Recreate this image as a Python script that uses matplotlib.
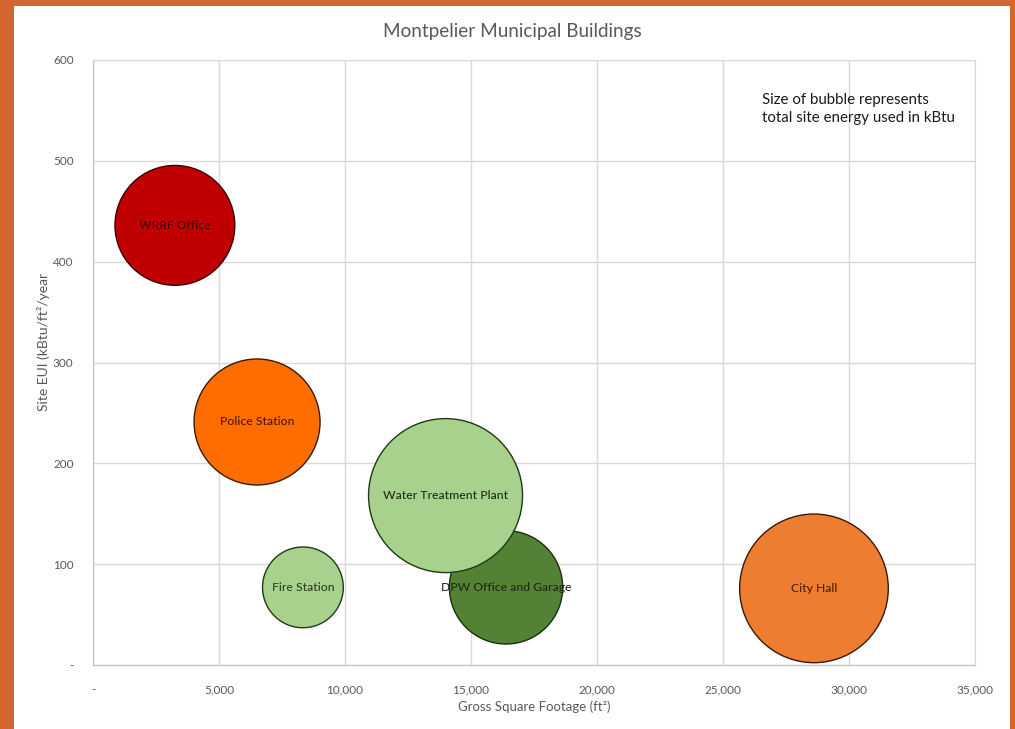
import matplotlib
matplotlib.use("Agg")
import matplotlib.pyplot as plt
import numpy as np

plt.rcParams['font.family'] = ['Lato', 'DejaVu Sans']

# ---- data ----
buildings = ["WRRF Office", "Police Station", "Fire Station",
             "DPW Office and Garage", "Water Treatment Plant", "City Hall"]
square_feet = [3250, 6510, 8330, 16390, 13990, 28610]
site_eui = [436, 241, 77, 77, 168, 76]
site_energy_kbtu = [1420000, 1570000, 645000, 1270000, 2345000, 2185000]
fill_colors = ["#C00000", "#FF6D00", "#A9D18E", "#548235", "#A9D18E", "#ED7D31"]
edge_colors = ["#3a0000", "#3a1a00", "#1f3a14", "#1a2e10", "#1f3a14", "#3a1a05"]
label_colors = ["#3a0a0a", "#4a1800", "#2a4020", "#1e2a14", "#1e2e14", "#4a2008"]

x_ticks = [0, 5000, 10000, 15000, 20000, 25000, 30000, 35000]
x_tick_labels = ["-", "5,000", "10,000", "15,000", "20,000", "25,000", "30,000", "35,000"]
y_ticks = [0, 100, 200, 300, 400, 500, 600]
y_tick_labels = ["-", "100", "200", "300", "400", "500", "600"]

W, H = 1015, 729
fig = plt.figure(figsize=(W / 100, H / 100), dpi=100)
fig.patch.set_facecolor("#D4652C")

bg = fig.add_axes([14 / W, 0, (1010 - 14) / W, (729 - 6) / H], zorder=-10)
bg.set_facecolor("white")
bg.set_xticks([])
bg.set_yticks([])
for sp in bg.spines.values():
    sp.set_visible(False)

ax = fig.add_axes([93 / W, 1 - 665 / H, (975 - 93) / W, (665 - 60) / H], zorder=1)
ax.set_facecolor("white")
ax.set_xlim(0, 35000)
ax.set_ylim(0, 600)

# bubble sizes: largest bubble ~ 25% of the plot height in diameter
energy = np.array(site_energy_kbtu, dtype=float)
max_diam_px = 154
diam_pt = max_diam_px * 0.72 * np.sqrt(energy / energy.max())
sizes = diam_pt ** 2

ax.scatter(square_feet, site_eui, s=sizes, c=fill_colors, edgecolors=edge_colors,
           linewidths=1.0, zorder=3)
for name, x, y, lc in zip(buildings, square_feet, site_eui, label_colors):
    ax.text(x, y, name, ha="center", va="center", fontsize=8.7, color=lc,
            fontweight="medium", zorder=4)

ax.set_xticks(x_ticks)
ax.set_xticklabels(x_tick_labels)
ax.set_yticks(y_ticks)
ax.set_yticklabels(y_tick_labels)
ax.tick_params(length=0, labelsize=8.5, labelcolor="#595959")
ax.tick_params(axis="y", pad=14)
ax.tick_params(axis="x", pad=14)
ax.grid(True, color="#D9D9D9", linewidth=1.0, zorder=0)
ax.set_axisbelow(True)
for sp in ax.spines.values():
    sp.set_color("#D9D9D9")
ax.spines["left"].set_color("#BFBFBF")
ax.spines["bottom"].set_color("#BFBFBF")

ax.set_xlabel("Gross Square Footage (ft²)", fontsize=9.5, color="#595959")
ax.xaxis.set_label_coords(0.5, -(707 - 665) / 605, transform=ax.transAxes)
ax.set_ylabel("Site EUI (kBtu/ft²/year", fontsize=10, color="#595959")
ax.yaxis.set_label_coords(-(93 - 44) / 882, (665 - 342) / 605, transform=ax.transAxes)
ax.xaxis.label.set_va("center")
ax.yaxis.label.set_va("center")

fig.text(512 / W, 1 - 31 / H, "Montpelier Municipal Buildings", ha="center",
         va="center", fontsize=13.6, color="#595959")
fig.text(762 / W, 1 - 109 / H, "Size of bubble represents\ntotal site energy used in kBtu",
         ha="left", va="center", fontsize=10.8, color="#1a1a1a", linespacing=1.45)

fig.savefig("out.png", dpi=100, facecolor=fig.get_facecolor())
